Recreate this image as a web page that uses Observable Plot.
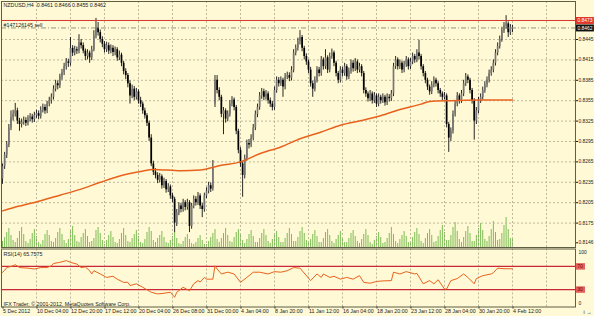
<!DOCTYPE html>
<html><head><meta charset="utf-8">
<script src="https://cdn.jsdelivr.net/npm/d3@7"></script>
<script src="https://cdn.jsdelivr.net/npm/@observablehq/plot@0.6"></script>
<style>
html,body{margin:0;padding:0;background:#FFF9D5;}
#chart{position:relative;width:594px;height:316px;background:#FFF9D5;overflow:hidden;}
#chart svg{position:absolute;left:0;overflow:visible;}
</style></head><body><div id="chart"></div>
<script>
// ---- data (prices in 1/10000, bar index = H4 bar number) ----
const symbol = "NZDUSD,H4";
const opens = [
8240,8258,8275,8290,8315,8330,8335,8340,8325,8320,
8323,8326,8322,8328,8331,8327,8333,8336,8332,8341,
8345,8340,8350,8355,8360,8372,8380,8377,8390,8396,
8405,8412,8410,8432,8425,8430,8428,8440,8436,8428,
8420,8425,8418,8430,8450,8462,8455,8445,8438,8430,
8436,8428,8432,8426,8430,8418,8422,8410,8398,8392,
8380,8362,8372,8360,8368,8355,8350,8340,8333,8322,
8300,8262,8250,8245,8238,8243,8230,8236,8224,8228,
8215,8210,8175,8190,8200,8195,8205,8198,8205,8170,
8200,8210,8205,8215,8200,8195,8215,8222,8230,8225,
8350,8385,8370,8360,8335,8340,8328,8335,8350,8356,
8345,8310,8282,8262,8245,8270,8292,8290,8300,8315,
8335,8345,8362,8368,8360,8365,8355,8350,8345,8370,
8385,8380,8385,8375,8390,8392,8388,8400,8425,8432,
8442,8448,8432,8420,8412,8400,8380,8372,8385,8400,
8395,8415,8405,8418,8400,8420,8425,8410,8395,8385,
8400,8395,8405,8390,8398,8410,8402,8412,8400,8405,
8395,8370,8365,8358,8365,8355,8362,8350,8360,8355,
8360,8352,8360,8358,8365,8405,8415,8405,8410,8400,
8408,8415,8405,8412,8420,8415,8425,8420,8405,8395,
8385,8375,8368,8378,8385,8380,8370,8365,8360,8362,
8320,8300,8310,8335,8350,8362,8355,8365,8380,8390,
8385,8370,8355,8325,8340,8355,8360,8370,8378,8385,
8395,8400,8410,8425,8435,8445,8458,8465,8468,8455,
8461];
const highs = [
8262,8279,8295,8320,8340,8341,8351,8344,8329,8328,
8331,8330,8333,8336,8335,8338,8341,8340,8346,8350,
8349,8354,8360,8365,8377,8385,8384,8394,8401,8410,
8417,8416,8448,8436,8435,8434,8452,8445,8440,8431,
8430,8428,8435,8458,8476,8470,8459,8449,8442,8441,
8440,8437,8436,8434,8433,8428,8425,8413,8402,8395,
8384,8378,8376,8373,8371,8360,8353,8344,8336,8325,
8305,8266,8255,8249,8248,8246,8241,8239,8233,8231,
8219,8213,8195,8205,8204,8210,8208,8210,8208,8204,
8215,8214,8220,8218,8204,8219,8227,8235,8234,8267,
8392,8392,8374,8363,8345,8343,8340,8355,8361,8359,
8348,8313,8286,8266,8275,8297,8298,8305,8320,8340,
8350,8367,8373,8372,8370,8368,8359,8354,8375,8390,
8389,8390,8388,8395,8397,8396,8405,8430,8437,8447,
8458,8451,8435,8424,8415,8404,8384,8390,8405,8404,
8420,8418,8430,8421,8425,8431,8428,8413,8398,8405,
8404,8410,8408,8403,8415,8414,8417,8415,8410,8408,
8398,8374,8368,8370,8368,8367,8365,8365,8363,8365,
8363,8365,8364,8370,8410,8420,8418,8415,8413,8413,
8420,8418,8417,8425,8423,8430,8444,8423,8408,8398,
8388,8378,8383,8390,8388,8383,8373,8368,8367,8365,
8323,8315,8340,8355,8367,8365,8370,8385,8395,8393,
8388,8373,8358,8345,8360,8365,8375,8383,8390,8400,
8405,8415,8430,8440,8450,8463,8470,8480,8471,8467,
8466];
const lows = [
8232,8254,8270,8286,8311,8325,8331,8320,8310,8315,
8319,8317,8318,8324,8322,8323,8329,8327,8328,8337,
8335,8336,8346,8350,8356,8368,8371,8373,8385,8392,
8400,8404,8406,8420,8421,8423,8424,8431,8424,8414,
8415,8410,8414,8427,8446,8450,8440,8433,8425,8426,
8423,8424,8420,8421,8413,8414,8405,8393,8386,8374,
8350,8358,8355,8356,8350,8345,8335,8328,8317,8295,
8258,8245,8240,8233,8234,8225,8226,8219,8220,8210,
8205,8161,8170,8186,8190,8191,8193,8194,8161,8166,
8196,8200,8201,8195,8183,8191,8211,8218,8220,8222,
8345,8365,8355,8330,8305,8322,8324,8331,8346,8340,
8305,8277,8257,8213,8240,8266,8284,8286,8296,8311,
8330,8341,8357,8355,8356,8350,8345,8340,8341,8366,
8375,8376,8360,8371,8386,8383,8384,8396,8421,8428,
8437,8427,8415,8407,8395,8375,8360,8368,8381,8390,
8391,8400,8401,8395,8396,8416,8405,8390,8380,8381,
8390,8391,8385,8386,8394,8397,8398,8395,8396,8390,
8365,8360,8353,8354,8350,8351,8345,8346,8350,8351,
8347,8348,8353,8354,8361,8401,8400,8401,8395,8396,
8404,8400,8401,8408,8410,8411,8415,8400,8390,8380,
8370,8363,8364,8374,8375,8365,8360,8355,8356,8315,
8279,8295,8306,8331,8346,8350,8351,8361,8376,8380,
8365,8350,8297,8320,8336,8351,8356,8366,8374,8381,
8391,8396,8406,8421,8431,8441,8454,8460,8448,8451,
8455];
const closes = [
8258,8275,8290,8315,8330,8335,8340,8325,8320,8323,
8326,8322,8328,8331,8327,8333,8336,8332,8341,8345,
8340,8350,8355,8360,8372,8380,8377,8390,8396,8405,
8412,8410,8432,8425,8430,8428,8440,8436,8428,8420,
8425,8418,8430,8450,8462,8455,8445,8438,8430,8436,
8428,8432,8426,8430,8418,8422,8410,8398,8392,8380,
8362,8372,8360,8368,8355,8350,8340,8333,8322,8300,
8262,8250,8245,8238,8243,8230,8236,8224,8228,8215,
8210,8175,8190,8200,8195,8205,8198,8205,8170,8200,
8210,8205,8215,8200,8195,8215,8222,8230,8225,8255,
8385,8370,8360,8335,8340,8328,8335,8350,8356,8345,
8310,8282,8262,8245,8270,8292,8290,8300,8315,8335,
8345,8362,8368,8360,8365,8355,8350,8345,8370,8385,
8380,8385,8375,8390,8392,8388,8400,8425,8432,8442,
8448,8432,8420,8412,8400,8380,8372,8385,8400,8395,
8415,8405,8418,8400,8420,8425,8410,8395,8385,8400,
8395,8405,8390,8398,8410,8402,8412,8400,8405,8395,
8370,8365,8358,8365,8355,8362,8350,8360,8355,8360,
8352,8360,8358,8365,8405,8415,8405,8410,8400,8408,
8415,8405,8412,8420,8415,8425,8420,8405,8395,8385,
8375,8368,8378,8385,8380,8370,8365,8360,8362,8320,
8300,8310,8335,8350,8362,8355,8365,8380,8390,8385,
8370,8355,8325,8340,8355,8360,8370,8378,8385,8395,
8400,8410,8425,8435,8445,8458,8465,8468,8455,8463,
8462];
// tick volume (hundreds)
const volumes = [
6,10,15,19,12,7, 5,9,16,20,13,6, 4,8,14,18,11,5, 3,7,13,17,12,6,
5,9,15,19,13,7, 4,8,16,21,12,6, 5,10,14,18,11,5, 6,9,17,20,14,7,
3,7,12,16,10,5, 4,8,14,19,12,6, 5,9,13,17,11,5, 4,8,15,20,16,7,
5,9,12,16,10,5, 4,7,11,15,9,4, 3,6,10,13,8,4, 3,5,9,12,7,3,
3,6,10,14,18,8, 5,9,14,19,12,6, 5,10,15,18,12,7, 4,8,13,17,11,5,
5,9,14,18,12,6, 4,8,12,16,10,5, 5,9,14,19,13,6, 6,10,16,20,14,7,
4,8,13,17,11,5, 5,9,15,18,12,6, 4,8,12,16,10,5, 5,9,14,17,11,6,
4,8,13,18,12,5, 3,7,11,15,10,4, 5,9,14,20,13,6, 4,8,12,16,11,5,
5,10,15,19,13,6, 4,9,14,18,12,5, 6,11,17,22,15,7, 7,12,20,25,16,8,
5,10,16,21,14,6, 6,12,19,24,17,8, 6,11,18,26,15,7, 8,14,22,30,18,9,
10];
// moving average read at sample bars
const maIndex = [0,8,18,27,37,46,56,65,71,84,93,103,112,121,131,140,150,159,169,178,187,197,201,211,225,240];
const maValue = [8193,8200,8208,8216,8225,8235,8245,8251,8254,8252,8253,8260,8265,8277,8287,8299,8309,8319,8326,8333,8342,8350,8354,8355,8356,8356];
// RSI(14) read at sample bars
const rsiIndex = [0,1,2,5,6,8,12,15,18,21,23,24,27,30,32,35,37,39,41,42,43,46,49,52,54,57,59,60,63,66,70,73,76,79,81,82,85,88,90,92,93,95,96,99,100,101,103,106,109,112,115,118,121,125,128,131,134,137,140,145,148,150,151,154,156,159,162,165,168,170,173,176,179,183,184,187,190,194,195,198,201,203,205,208,209,211,214,217,219,222,223,226,230,231,233,236,239,240];
const rsiValue = [59.7,63,68,71,73,68,67,65.5,68,68,71,75,77,80,77,74,68,69,62.6,57,62.6,57,51,53,48,42.5,42.5,37,40,34,25.4,22.6,23.7,25.4,16.8,25.4,34,28,40,45.5,43,51,48,48,71,65.5,57,60,57,42.5,51,60,60,57,61,60,62.6,68,67,45.5,57,51,57,51,53,48,51,48,54,42.5,41,44,45,45.5,60,57,61,57,58,40,45.5,40,47,31,31,45.5,49,57,51,40,49,54,57,59,67,66,66,65.7575];
const rsiLevels = [70, 30];
const priceTicks = [0.8445,0.8415,0.8385,0.8355,0.8325,0.8295,0.8265,0.8235,0.8205,0.8175,0.8146];
const timeTickIndex = [0,16,32,48,64,80,96,112,128,144,160,176,192,208,224,240];
const timeTickLabels = ["5 Dec 2012","10 Dec 04:00","12 Dec 20:00","17 Dec 12:00","20 Dec 04:00","26 Dec 08:00","31 Dec 00:00","4 Jan 04:00","8 Jan 20:00","11 Jan 12:00","16 Jan 04:00","18 Jan 20:00","23 Jan 12:00","28 Jan 04:00","30 Jan 20:00","4 Feb 12:00"];
const gridIndex = [16,32,48,64,80,96,112,128,144,160,176,192,208,224,240,256];
const resistancePrice = 0.8473;
const orderPrice = 0.8462;
const orderLabel = "#147126145 sell";
const copyright = "IFX Trader, \u00A9 2001-2012, MetaQuotes Software Corp.";

// ---- build tables ----
const bars = closes.map((c, i) => ({i, o: opens[i]/1e4, h: highs[i]/1e4, l: lows[i]/1e4, c: c/1e4, v: volumes[i]}));
const ma = maIndex.map((i, k) => ({i, v: maValue[k]/1e4}));
const rsi = rsiIndex.map((i, k) => ({i, v: rsiValue[k]}));
const last = bars[bars.length-1];
const labelMap = new Map(timeTickIndex.map((d, k) => [d, timeTickLabels[k]]));

const xDom = [-0.47, 269.65];
const xEnd = xDom[1];
const FONT = "'Liberation Sans', Arial, sans-serif";
const FS = 5.3;   // general text
const FA = 4.9;   // right-hand scale labels
const bg = "#FFF9D5";
const gridC = "#bdb99c";
const frameC = "#5f5f45";
const style = {background: "transparent", fontFamily: FONT, fontSize: FS + "px", color: "#1a1a1a", overflow: "visible"};
const root = document.getElementById("chart");

// volume overlay
const volPlot = Plot.plot({
  width: 594, height: 248, marginLeft: 1, marginRight: 19, marginTop: 1, marginBottom: 1,
  style, x: {domain: xDom, axis: null}, y: {domain: [0, 246], axis: null},
  marks: [
    Plot.ruleX(bars, {x: "i", y1: 0, y2: "v", stroke: "#7cbd55", strokeWidth: 1})
  ]
});
volPlot.style.top = "0px";
root.appendChild(volPlot);

// main price panel
const main = Plot.plot({
  width: 594, height: 248, marginLeft: 1, marginRight: 19, marginTop: 1, marginBottom: 1,
  style, x: {domain: xDom, axis: null}, y: {domain: [0.81391, 0.85009], axis: null},
  marks: [
    Plot.gridX(gridIndex, {stroke: gridC, strokeOpacity: 1, strokeDasharray: "2,2"}),
    Plot.gridY(priceTicks.slice(0, -1), {stroke: gridC, strokeOpacity: 1, strokeDasharray: "2,2"}),
    Plot.ruleX(bars, {x: "i", y1: "l", y2: "h", stroke: "#111", strokeWidth: 0.9}),
    Plot.ruleX(bars, {x: "i", y1: "o", y2: "c", stroke: d => d.c >= d.o ? "#777" : "#000", strokeWidth: 1.7}),
    Plot.line(ma, {x: "i", y: "v", stroke: "#E8621E", strokeWidth: 1.5, curve: "monotone-x"}),
    Plot.ruleY([resistancePrice], {stroke: "#D9342B", strokeWidth: 1}),
    Plot.ruleY([orderPrice], {stroke: "#8c8a78", strokeWidth: 0.9, strokeDasharray: "5,2,1,2"}),
    Plot.axisY(priceTicks, {anchor: "right", tickSize: 2, tickPadding: 1, tickFormat: d => d.toFixed(4), fontSize: FA}),
    Plot.ruleY([resistancePrice], {x1: xEnd + 0.4, x2: xEnd + 8.9, stroke: "#E2382C", strokeWidth: 7}),
    Plot.text([resistancePrice], {x: xEnd + 0.9, y: d => d, text: d => d.toFixed(4), textAnchor: "start", fill: "white", fontSize: FA}),
    Plot.ruleY([orderPrice], {x1: xEnd + 0.4, x2: xEnd + 8.9, stroke: "#111", strokeWidth: 7}),
    Plot.text([orderPrice], {x: xEnd + 0.9, y: d => d, text: d => d.toFixed(4), textAnchor: "start", fill: "white", fontSize: FA}),
    Plot.text([`${symbol}  ${last.o.toFixed(4)} ${last.h.toFixed(4)} ${last.l.toFixed(4)} ${last.c.toFixed(4)}`],
      {frameAnchor: "top-left", dx: 2, dy: 2, textAnchor: "start", lineAnchor: "top", fontSize: FS}),
    Plot.text([orderPrice], {y: d => d, frameAnchor: "left", dx: 2, dy: -0.8, text: () => orderLabel, textAnchor: "start", lineAnchor: "bottom", fontSize: FS}),
    Plot.frame({stroke: frameC, strokeWidth: 1})
  ]
});
main.style.top = "0px";
root.appendChild(main);

// RSI panel with time axis
const rsiPlot = Plot.plot({
  width: 594, height: 68, marginLeft: 1, marginRight: 19, marginTop: 0.5, marginBottom: 9.5,
  style, x: {domain: xDom, axis: null}, y: {domain: [0, 100], axis: null},
  marks: [
    Plot.gridX(gridIndex, {stroke: gridC, strokeOpacity: 1, strokeDasharray: "2,2"}),
    Plot.ruleY(rsiLevels, {stroke: "#C8283A", strokeWidth: 1.2}),
    Plot.line(rsi, {x: "i", y: "v", stroke: "#E8621E", strokeWidth: 1}),
    Plot.ruleY(rsiLevels, {x1: xEnd + 0.4, x2: xEnd + 4.7, stroke: "#E4605A", strokeWidth: 6.5}),
    Plot.text(rsiLevels, {x: xEnd + 0.8, y: d => d, text: d => String(d), textAnchor: "start", fill: "#6a0a0a", fontSize: FA}),
    Plot.text([100], {x: xEnd, y: d => d, dx: 3, dy: 3.5, text: d => String(d), textAnchor: "start", fontSize: FA}),
    Plot.text([0], {x: xEnd, y: d => d, dx: 3, dy: -3.5, text: d => String(d), textAnchor: "start", fontSize: FA}),
    Plot.text([`RSI(14) ${rsiValue[rsiValue.length-1].toFixed(4)}`], {frameAnchor: "top-left", dx: 2, dy: 3, textAnchor: "start", lineAnchor: "top", fontSize: FS}),
    Plot.text([copyright], {frameAnchor: "bottom-left", dx: 2, dy: -1.5, textAnchor: "start", lineAnchor: "bottom", fontSize: FS}),
    Plot.axisX(timeTickIndex, {anchor: "bottom", tickSize: 2, tickPadding: 0.5, textAnchor: "start", dx: 0.5, tickFormat: d => labelMap.get(d), fontSize: FS}),
    Plot.frame({stroke: frameC, strokeWidth: 1})
  ]
});
rsiPlot.style.top = "248px";
root.appendChild(rsiPlot);
</script>
</body></html>
